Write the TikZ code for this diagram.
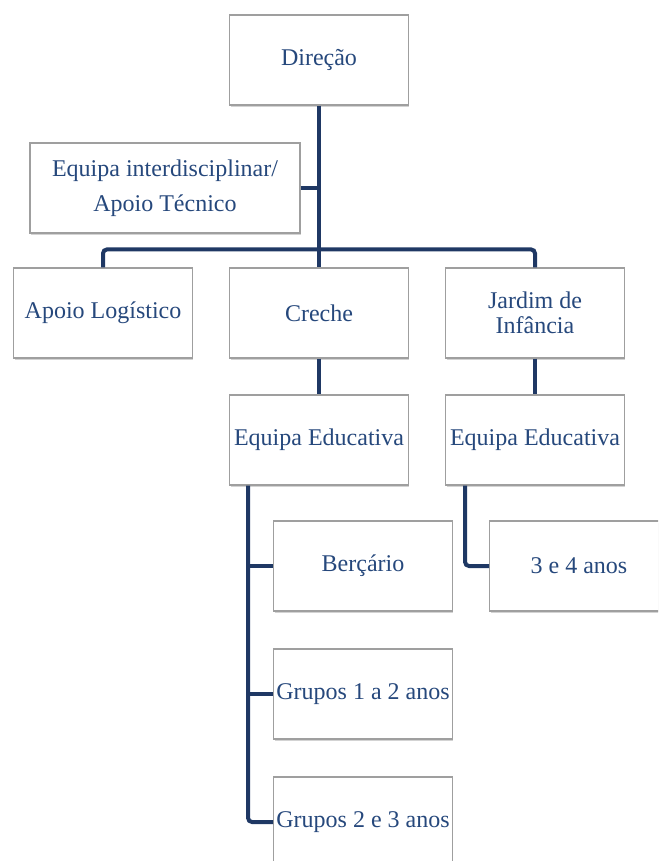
\documentclass[tikz,border=0pt]{standalone}
\usepackage{fontspec}
\setmainfont{Liberation Serif}
\usetikzlibrary{positioning,shadows,calc}

\definecolor{linkblue}{RGB}{31,56,100}
\definecolor{textblue}{RGB}{38,72,124}

\begin{document}
\begin{tikzpicture}[node distance=95.25pt,on grid]
  \tikzstyle{unit}=[rectangle,draw=gray!75,line width=0.9pt,fill=white,
    minimum width=134pt,minimum height=67.5pt,inner sep=1pt,align=center,
    text=textblue,font=\fontsize{18}{20}\selectfont,
    drop shadow={shadow xshift=0.8pt,shadow yshift=-1.6pt,opacity=0.35}]
  \tikzstyle{link}=[draw=linkblue,line width=3pt,rounded corners=3pt]

  \clip (0,0) rectangle (493.5pt,-645.75pt);

  \node[unit]   (dir)    at (239.25pt,-45pt)                 {Direção};
  \node[unit,minimum width=202.5pt,font=\fontsize{18}{26}\selectfont]
                (eqi)    [below left=96pt and 115.5pt of dir] {Equipa interdisciplinar/\\Apoio Técnico};
  \node[unit]   (creche) [below=189.75pt of dir]              {Creche};
  \node[unit]   (apoio)  [left=162pt of creche]               {Apoio Logístico};
  \node[unit,font=\fontsize{18}{18.5}\selectfont]
                (jardim) [right=162pt of creche]              {Jardim de\\Infância};
  \node[unit]   (ee1)    [below of=creche]                    {Equipa Educativa};
  \node[unit]   (ee2)    [below of=jardim]                    {Equipa Educativa};
  \node[unit]   (berc)   [below right=94.5pt and 33pt of ee1] {Berçário};
  \node[unit]   (tres)   [below right=94.5pt and 33pt of ee2] {3 e 4 anos};
  \node[unit]   (gr1)    [below=96pt of berc]                 {Grupos 1 a 2 anos};
  \node[unit]   (gr2)    [below=96pt of gr1]                  {Grupos 2 e 3 anos};

  \coordinate (trunk1) at ($(ee1.south west)+(14.25pt,0)$);
  \coordinate (trunk2) at ($(ee2.south west)+(15pt,0)$);

  \path[link]
  (dir.south) edge (creche.north)
  (eqi.east) edge (eqi.east -| dir.south)
  (creche.south) edge (ee1.north)
  (jardim.south) edge (ee2.north)
  (trunk1 |- berc.west) edge (berc.west)
  (trunk1 |- gr1.west) edge (gr1.west);
  \draw[link] (apoio.north) -- ++(0,13.5pt) -| (jardim.north);
  \draw[link] (trunk1) |- (gr2.west);
  \draw[link] (trunk2) |- (tres.west);
\end{tikzpicture}
\end{document}
